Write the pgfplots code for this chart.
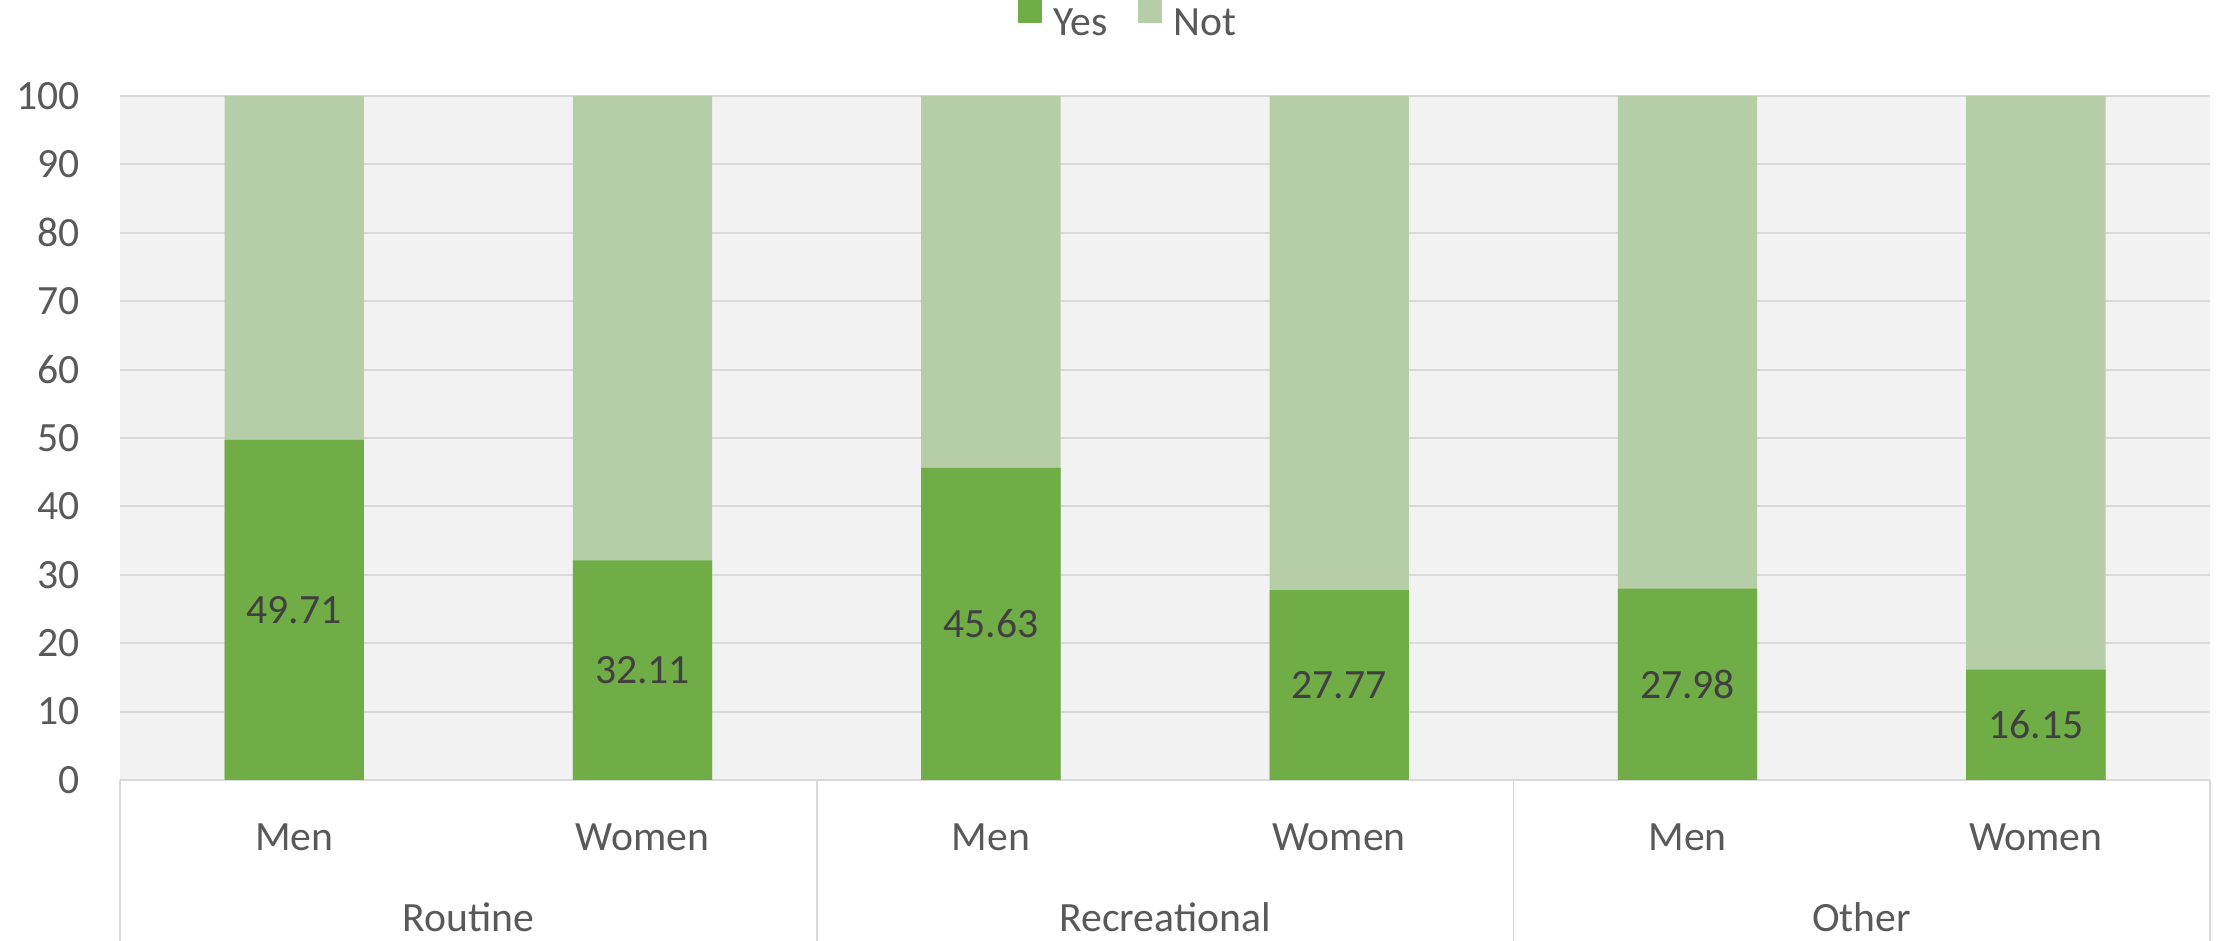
\documentclass[border=0pt]{standalone}
\usepackage{pgfplots}
\pgfplotsset{compat=1.18}
\usepackage{fontspec}
\setmainfont{Carlito}
\definecolor{yesg}{RGB}{112,173,71}
\definecolor{notg}{RGB}{181,206,167}
\definecolor{bgg}{RGB}{242,242,242}
\definecolor{gridg}{RGB}{217,217,217}
\definecolor{tickc}{RGB}{89,89,89}
\definecolor{labc}{RGB}{64,64,64}
\begin{document}
\begin{tikzpicture}[font=\fontsize{15}{18}\selectfont]
\begin{axis}[
  scale only axis, width=752.4pt, height=246.24pt,
  xmin=-0.5, xmax=5.5, ymin=0, ymax=100,
  xtick={0,...,5}, xticklabels={Men,Women,Men,Women,Men,Women},
  ytick={0,10,...,100},
  major tick length=0pt,
  axis line style={draw=none},
  ymajorgrids, grid style={gridg, line width=0.7pt},
  axis background/.style={fill=bgg},
  ticklabel style={text=tickc},
  yticklabel style={inner sep=0pt, anchor=east, xshift=-14.4pt},
  xticklabel style={inner sep=0pt, anchor=center, yshift=-20.5pt},
  clip=false,
  /pgf/number format/assume math mode=true,
  legend style={draw=none, fill=none, at={(0.482,1.112)}, anchor=center,
    legend columns=2, nodes={inner sep=0pt, text=tickc},
    /tikz/every odd column/.append style={column sep=4pt},
    /tikz/every even column/.append style={column sep=11pt}},
  legend image code/.code={\fill[#1] (0pt,0.2pt) rectangle (8.64pt,8.84pt);},
]
% total (Yes + Not = 100), drawn first
\addplot[ybar, bar width=0.4, bar shift=0pt, fill=notg, draw=none, forget plot]
  coordinates {(0,100) (1,100) (2,100) (3,100) (4,100) (5,100)};
% Yes
\addplot[ybar, bar width=0.4, bar shift=0pt, fill=yesg, draw=none]
  coordinates {(0,49.71) (1,32.11) (2,45.63) (3,27.77) (4,27.98) (5,16.15)};
\addlegendentry{Yes}
\addlegendimage{fill=notg, draw=none}
\addlegendentry{Not}
% labels centred in Yes bars
\addplot[draw=none, mark=none, forget plot, nodes near coords,
  point meta=explicit symbolic, nodes near coords align={center},
  every node near coord/.append style={text=labc}]
  coordinates {(0,24.855)[49.71] (1,16.055)[32.11] (2,22.815)[45.63]
               (3,13.885)[27.77] (4,13.99)[27.98] (5,8.075)[16.15]};
\pgfplotsinvokeforeach{-0.5,1.5,3.5,5.5}{
  \draw[gridg, line width=0.6pt] (axis cs:#1,0) -- ([yshift=-57.96pt]axis cs:#1,0);
}
\node[text=tickc, inner sep=0pt] at ([yshift=-49.3pt]axis cs:0.5,0) {Routine};
\node[text=tickc, inner sep=0pt] at ([yshift=-49.3pt]axis cs:2.5,0) {Recreational};
\node[text=tickc, inner sep=0pt] at ([yshift=-49.3pt]axis cs:4.5,0) {Other};
\coordinate (bl) at (rel axis cs:0,0);
\coordinate (tr) at (rel axis cs:1,1);
\end{axis}
\pgfresetboundingbox
\useasboundingbox ([shift={(-43.2pt,-57.96pt)}]bl) rectangle ([shift={(3.96pt,34.56pt)}]tr);
\end{tikzpicture}
\end{document}
